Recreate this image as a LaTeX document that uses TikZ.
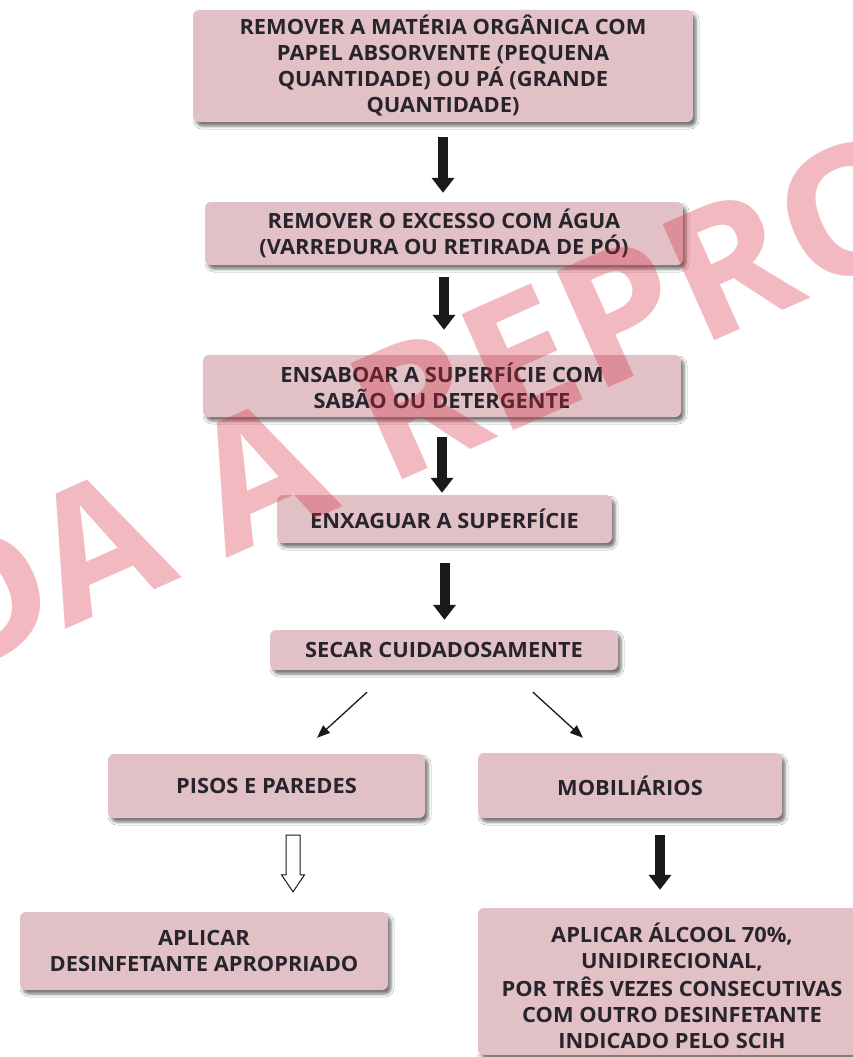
\documentclass[tikz,border=0pt]{standalone}
\usepackage{fontspec}
\setmainfont{Open Sans}[FakeStretch=1.04]
\usetikzlibrary{arrows.meta,shadows.blur,calc}
\definecolor{boxfill}{RGB}{225,193,198}
\definecolor{boxtext}{RGB}{40,36,44}
\definecolor{arrowc}{RGB}{26,26,26}
\definecolor{wmred}{RGB}{215,40,60}
\begin{document}
\begin{tikzpicture}[x=1pt,y=-1pt,
  box/.style={draw=none, fill=boxfill, rounded corners=6pt, align=center, text=boxtext,
    font=\fontsize{21}{26}\selectfont\bfseries, inner sep=0pt,
    blur shadow={shadow xshift=3pt, shadow yshift=-4pt, shadow blur radius=3pt, shadow opacity=55}},
  blk/.style={draw=arrowc, line width=10pt, -{Triangle[width=22pt,length=15pt]}},
  thinarrow/.style={draw=arrowc, line width=1.3pt, -{Triangle[width=10pt,length=13pt]}},
  hollow/.style={draw=arrowc, line width=1pt, fill=white, line join=miter},
  watermark/.style={anchor=base west, inner sep=0pt, rotate=24, text=wmred,
    fill opacity=0.32, text opacity=0.32, font=\fontsize{178}{178}\selectfont\bfseries},
]
\useasboundingbox[fill=white] (0,0) rectangle (853,1057);

\node[box, minimum width=500pt, minimum height=112pt] (b1) at (443,66)
  {REMOVER A MATÉRIA ORGÂNICA COM\\PAPEL ABSORVENTE (PEQUENA\\QUANTIDADE) OU PÁ (GRANDE\\QUANTIDADE)};
\node[box, minimum width=478pt, minimum height=63pt] (b2) at (444,233.5)
  {REMOVER O EXCESSO COM ÁGUA\\(VARREDURA OU RETIRADA DE PÓ)};
\node[box, minimum width=478pt, minimum height=62pt] (b3) at (442,386)
  {ENSABOAR A SUPERFÍCIE COM\\SABÃO OU DETERGENTE};
\node[box, minimum width=335pt, minimum height=48pt] (b4) at (444.5,519)
  {ENXAGUAR A SUPERFÍCIE};
\node[box, minimum width=348pt, minimum height=40pt] (b5) at (444,650)
  {SECAR CUIDADOSAMENTE};
\node[box, minimum width=317pt, minimum height=64pt] (b6) at (266.5,786)
  {PISOS E PAREDES};
\node[box, minimum width=304pt, minimum height=65pt] (b7) at (630,785.5)
  {MOBILIÁRIOS};
\node[box, minimum width=368pt, minimum height=78pt] (b8) at (204,951)
  {APLICAR\\DESINFETANTE APROPRIADO};
\node[box, minimum width=388pt, minimum height=147pt] (b9) at (672,981.5)
  {\raisebox{-8pt}[\height][\depth]{\begin{tabular}{@{}c@{}}APLICAR ÁLCOOL 70\%,\\UNIDIRECIONAL,\\POR TRÊS VEZES CONSECUTIVAS\\COM OUTRO DESINFETANTE\\INDICADO PELO SCIH\end{tabular}}};

% block arrows
\draw[blk, shorten <=15pt, shorten >=9pt] (b1.south) -- (b1.south |- b2.north);
\draw[blk, shorten <=12pt, shorten >=25pt] (b2.south) -- (b2.south |- b3.north);
\draw[blk, shorten <=20pt, shorten >=2pt] (b3.south) -- (b3.south |- b4.north);
\draw[blk, shorten <=20pt, shorten >=10pt] (b4.south) -- (b4.south |- b5.north);
\coordinate (m1) at ([xshift=30pt]b7.south);
\draw[blk, shorten <=17pt, shorten >=18pt] (m1) -- (m1 |- b9.north);

% diagonal arrows
\coordinate (dl1) at ($(b5.south)+(-77,22)$);
\coordinate (dl2) at ($(b6.north)+(50.5,-16)$);
\coordinate (dr1) at ($(b5.south)+(89,22)$);
\coordinate (dr2) at ($(b7.north)+(-47,-15)$);
\draw[thinarrow] (dl1) -- (dl2);
\draw[thinarrow] (dr1) -- (dr2);

% hollow arrow
\coordinate (h1) at ($(b6.south)+(26.5,17)$);
\coordinate (h2) at ($(b8.north)+(89,-20)$);
\draw[hollow] ($(h1)+(-7,0)$) -- ($(h1)+(7,0)$) -- ($(h2)+(7,-17)$) -- ($(h2)+(11.5,-17)$)
  -- (h2) -- ($(h2)+(-11.5,-17)$) -- ($(h2)+(-7,-17)$) -- cycle;

% watermark
\begin{scope}
\clip (0,0) rectangle (853,1057);
\node[watermark] (wm) at (-56,684) {DA A REPRO};
\end{scope}
\end{tikzpicture}
\end{document}
